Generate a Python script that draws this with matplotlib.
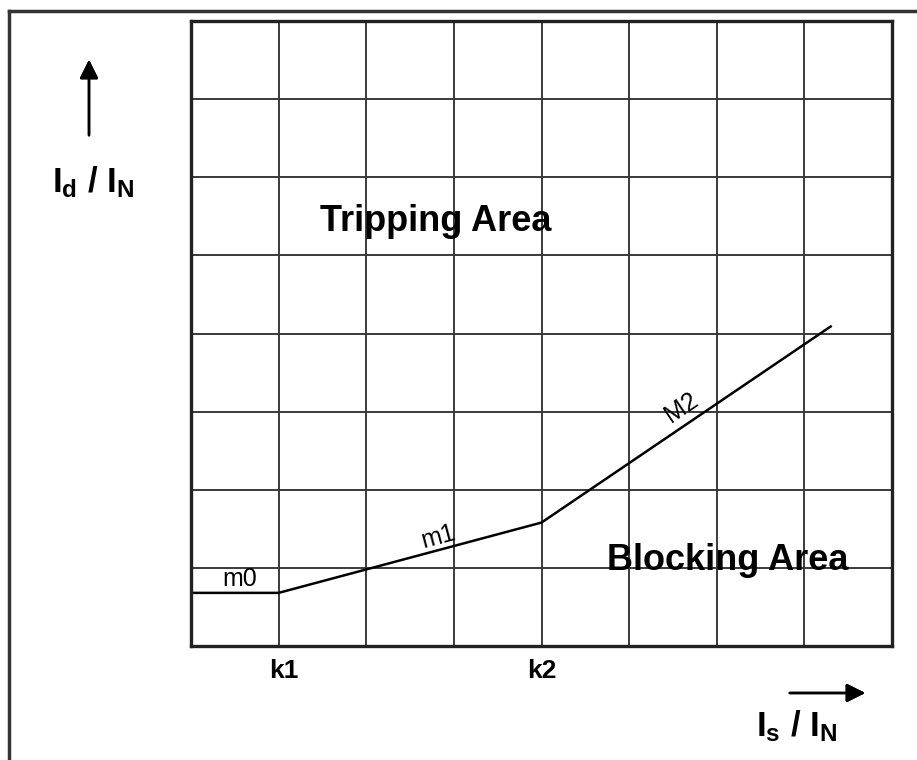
import matplotlib.pyplot as plt
from matplotlib.lines import Line2D
from matplotlib.transforms import ScaledTranslation

plt.rcParams['font.family'] = ['Liberation Sans', 'DejaVu Sans']
plt.rcParams['mathtext.fontset'] = 'custom'
plt.rcParams['mathtext.rm'] = 'Liberation Sans:bold'
plt.rcParams['mathtext.bf'] = 'Liberation Sans:bold'
plt.rcParams['mathtext.default'] = 'bf'

# characteristic breakpoints (grid units)
curve_x = [0, 1, 4, 7.3]
curve_y = [0.68, 0.68, 1.58, 4.09]
grid_ticks = list(range(9))
tick_labels = ['', 'k1', '', '', 'k2', '', '', '', '']
slope_names = ['m0', 'm1', 'M2']

fig = plt.figure(figsize=(9.17, 7.6), dpi=100)
W, H = 917, 760
ax = fig.add_axes([191 / W, (H - 646) / H, 701 / W, 625 / H])

ax.plot(curve_x, curve_y, color='black', lw=1.8, solid_joinstyle='miter')
ax.set_xlim(0, 8)
ax.set_ylim(0, 8)
ax.set_xticks(grid_ticks)
ax.set_xticklabels(tick_labels, fontsize=19, fontweight='bold')
ax.set_yticks(grid_ticks)
ax.set_yticklabels([])
ax.tick_params(length=0, pad=9)
lbl = ax.get_xticklabels()[1]
lbl.set_transform(lbl.get_transform() + ScaledTranslation(5 / 100, 0, fig.dpi_scale_trans))
ax.grid(True, color='#3a3a3a', lw=1.4)
for sp in ax.spines.values():
    sp.set_linewidth(2.4)
    sp.set_color('#222222')

ax.text(2.79, 5.43, 'Tripping Area', fontsize=26, fontweight='bold',
        ha='center', va='center')
ax.text(6.12, 1.09, 'Blocking Area', fontsize=26, fontweight='bold',
        ha='center', va='center')
ax.text(0.56, 0.86, slope_names[0], fontsize=18, ha='center', va='center')
ax.text(2.82, 1.40, slope_names[1], fontsize=18, ha='center', va='center',
        rotation=15)
ax.text(5.6, 3.05, slope_names[2], fontsize=18, ha='center', va='center',
        rotation=34)

# outer frame (left and top edges visible)
fig.add_artist(Line2D([9 / W, 9 / W], [0, (H - 11) / H], color='#333333', lw=2.5))
fig.add_artist(Line2D([9 / W, 1], [(H - 11) / H, (H - 11) / H], color='#333333', lw=2.5))

# axis arrows and labels
fig.add_artist(plt.annotate('', xy=(89 / W, (H - 57) / H), xytext=(89 / W, (H - 138) / H),
                            xycoords='figure fraction',
                            arrowprops=dict(arrowstyle='-|>', color='black', lw=1.8,
                                            mutation_scale=28)))
fig.add_artist(plt.annotate('', xy=(868 / W, (H - 693) / H), xytext=(787 / W, (H - 693) / H),
                            xycoords='figure fraction',
                            arrowprops=dict(arrowstyle='-|>', color='black', lw=1.8,
                                            mutation_scale=28)))
fig.text(93 / W, (H - 182) / H, r'I$_\mathregular{d}$ / I$_\mathregular{N}$',
         fontsize=25, fontweight='bold', ha='center', va='center')
fig.text(797 / W, (H - 726) / H, r'I$_\mathregular{s}$ / I$_\mathregular{N}$',
         fontsize=25, fontweight='bold', ha='center', va='center')

fig.savefig('out.png', dpi=100)
